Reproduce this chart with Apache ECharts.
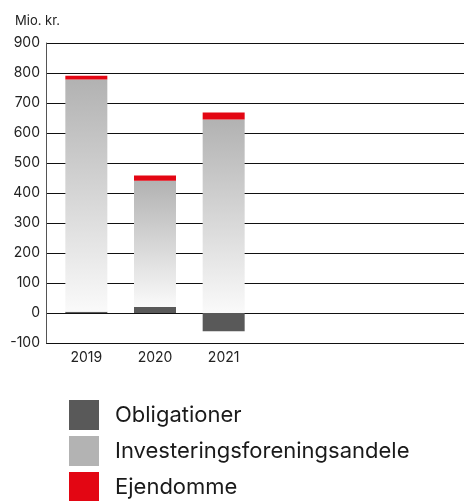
<!DOCTYPE html>
<html>
<head>
<meta charset="utf-8">
<script src="https://cdn.jsdelivr.net/npm/echarts@6/dist/echarts.min.js"></script>
<style>
html,body{margin:0;padding:0;background:#fff;}
#chart{width:464px;height:501px;}
</style>
</head>
<body>
<div id="chart"></div>
<script>
const categories = ['2019', '2020', '2021', '', '', ''];
const obligationer = [4, 20, -61];
const investering = [774, 421, 645];
const ejendomme = [13, 17, 23];
const yTicks = [-100, 0, 100, 200, 300, 400, 500, 600, 700, 800, 900];
const seriesNames = ['Obligationer', 'Investeringsforeningsandele', 'Ejendomme'];
const seriesColors = ['#595959', '#b3b3b3', '#e30613'];
const unitLabel = 'Mio. kr.';

const FONT = 'Inter, "Noto Sans", sans-serif';
const yMin = yTicks[0], yMax = yTicks[yTicks.length - 1], yStep = yTicks[1] - yTicks[0];

const legends = seriesNames.map((n, i) => ({
  orient: 'vertical', left: 69, top: 400 + i * 36, padding: 0,
  itemWidth: 30, itemHeight: 30,
  icon: 'rect',
  textStyle: {fontFamily: FONT, fontSize: 22, color: '#1a1a1a', padding: [0, 0, 0, 11]},
  data: [{name: n, itemStyle: {color: seriesColors[i]}}]
}));

const chart = echarts.init(document.getElementById('chart'), null, {renderer: 'canvas'});
chart.setOption({
  animation: false,
  backgroundColor: '#ffffff',
  title: {
    text: unitLabel, left: 10, top: 10,
    textStyle: {fontFamily: FONT, fontSize: 13, fontWeight: 'normal', color: '#222'}
  },
  grid: [
    {left: 46, right: 0, top: 43, bottom: 158, containLabel: false},
    {left: 52, width: 417, top: 43, bottom: 158, containLabel: false}
  ],
  xAxis: [
    {gridIndex: 0, type: 'category', data: categories, show: false},
    {
      gridIndex: 1, type: 'category', data: categories,
      axisLine: {show: false}, axisTick: {show: false}, splitLine: {show: false},
      axisLabel: {fontFamily: FONT, fontSize: 14, color: '#222', margin: 8, interval: 0}
    }
  ],
  yAxis: [
    {
      gridIndex: 0, type: 'value', min: yMin, max: yMax, interval: yStep,
      axisLine: {show: true, onZero: false, lineStyle: {color: '#555', width: 1}},
      axisTick: {show: false},
      splitLine: {show: true, lineStyle: {color: '#111', width: 1}},
      axisLabel: {fontFamily: FONT, fontSize: 14, color: '#222', margin: 6}
    },
    {
      gridIndex: 1, type: 'value', min: yMin, max: yMax, interval: yStep,
      show: false, splitLine: {show: false}
    }
  ],
  legend: legends,
  series: [
    {
      name: seriesNames[0], type: 'bar', stack: 'a', barWidth: 42,
      xAxisIndex: 1, yAxisIndex: 1,
      data: obligationer,
      itemStyle: {color: seriesColors[0]}
    },
    {
      name: seriesNames[1], type: 'bar', stack: 'a', barWidth: 42,
      xAxisIndex: 1, yAxisIndex: 1,
      data: investering,
      itemStyle: {
        color: new echarts.graphic.LinearGradient(0, 0, 0, 1, [
          {offset: 0, color: '#b2b2b2'},
          {offset: 1, color: '#fafafa'}
        ])
      }
    },
    {
      name: seriesNames[2], type: 'bar', stack: 'a', barWidth: 42,
      xAxisIndex: 1, yAxisIndex: 1,
      data: ejendomme,
      itemStyle: {color: seriesColors[2]}
    }
  ]
});
</script>
</body>
</html>
